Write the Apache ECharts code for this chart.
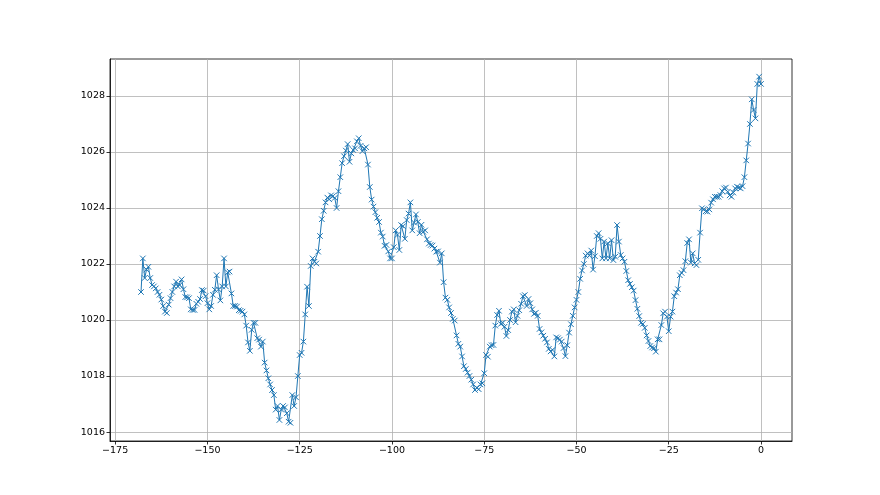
<!DOCTYPE html>
<html>
<head>
<meta charset="utf-8">
<script src="https://cdn.jsdelivr.net/npm/echarts@6/dist/echarts.min.js"></script>
<style>html,body{margin:0;padding:0;background:#fff}#c{width:880px;height:495px}</style>
</head>
<body>
<div id="c"></div>
<script>
// Hours relative to now (x values)
const hours = [
-168,-167.5,-167,-166.5,-166,-165.5,-165,-164.5,-164,-163.5,-163,-162.5,-162,-161.5,-161,-160.5,-160,-159.5,-159,-158.5,
-158,-157.5,-157,-156.5,-156,-155.5,-155,-154.5,-154,-153.5,-153,-152.5,-152,-151.5,-151,-150.5,-150,-149.5,-149,-148.5,
-148,-147.5,-147,-146.5,-146,-145.5,-145,-144.5,-144,-143.5,-143,-142.5,-142,-141.5,-141,-140.5,-140,-139.5,-139,-138.5,
-138,-137.5,-137,-136.5,-136,-135.5,-135,-134.5,-134,-133.5,-133,-132.5,-132,-131.5,-131,-130.5,-130,-129.5,-129,-128.5,
-128,-127.5,-127,-126.5,-126,-125.5,-125,-124.5,-124,-123.5,-123,-122.5,-122,-121.5,-121,-120.5,-120,-119.5,-119,-118.5,
-118,-117.5,-117,-116.5,-116,-115.5,-115,-114.5,-114,-113.5,-113,-112.5,-112,-111.5,-111,-110.5,-110,-109.5,-109,-108.5,
-108,-107.5,-107,-106.5,-106,-105.5,-105,-104.5,-104,-103.5,-103,-102.5,-102,-101.5,-101,-100.5,-100,-99.5,-99,-98.5,
-98,-97.5,-97,-96.5,-96,-95.5,-95,-94.5,-94,-93.5,-93,-92.5,-92,-91.5,-91,-90.5,-90,-89.5,-89,-88.5,
-88,-87.5,-87,-86.5,-86,-85.5,-85,-84.5,-84,-83.5,-83,-82.5,-82,-81.5,-81,-80.5,-80,-79.5,-79,-78.5,
-78,-77.5,-77,-76.5,-76,-75.5,-75,-74.5,-74,-73.5,-73,-72.5,-72,-71.5,-71,-70.5,-70,-69.5,-69,-68.5,
-68,-67.5,-67,-66.5,-66,-65.5,-65,-64.5,-64,-63.5,-63,-62.5,-62,-61.5,-61,-60.5,-60,-59.5,-59,-58.5,
-58,-57.5,-57,-56.5,-56,-55.5,-55,-54.5,-54,-53.5,-53,-52.5,-52,-51.5,-51,-50.5,-50,-49.5,-49,-48.5,
-48,-47.5,-47,-46.5,-46,-45.5,-45,-44.5,-44,-43.5,-43,-42.5,-42,-41.5,-41,-40.5,-40,-39.5,-39,-38.5,
-38,-37.5,-37,-36.5,-36,-35.5,-35,-34.5,-34,-33.5,-33,-32.5,-32,-31.5,-31,-30.5,-30,-29.5,-29,-28.5,
-28,-27.5,-27,-26.5,-26,-25.5,-25,-24.5,-24,-23.5,-23,-22.5,-22,-21.5,-21,-20.5,-20,-19.5,-19,-18.5,
-18,-17.5,-17,-16.5,-16,-15.5,-15,-14.5,-14,-13.5,-13,-12.5,-12,-11.5,-11,-10.5,-10,-9.5,-9,-8.5,
-8,-7.5,-7,-6.5,-6,-5.5,-5,-4.5,-4,-3.5,-3,-2.5,-2,-1.5,-1,-0.5,0
];
// Pressure values (hPa)
const pressure = [
1021.0,1022.2,1021.5,1021.8,1021.9,1021.5,1021.25,1021.2,1021.13,1021.0,1020.9,1020.73,1020.5,1020.3,1020.25,1020.55,1020.78,1021.0,1021.2,1021.37,
1021.2,1021.25,1021.45,1021.1,1020.82,1020.81,1020.78,1020.38,1020.36,1020.36,1020.58,1020.65,1020.75,1021.07,1021.05,1020.85,1020.6,1020.38,1020.5,1020.9,
1021.08,1021.6,1021.1,1020.7,1021.2,1022.2,1021.2,1021.7,1021.73,1020.95,1020.5,1020.5,1020.48,1020.35,1020.33,1020.3,1020.2,1019.8,1019.2,1018.9,
1019.65,1019.9,1019.9,1019.35,1019.3,1019.05,1019.23,1018.48,1018.2,1017.92,1017.7,1017.5,1017.32,1016.8,1016.93,1016.43,1016.8,1016.93,1016.88,1016.67,
1016.37,1016.33,1017.32,1016.93,1017.24,1018.0,1018.75,1018.83,1019.23,1020.2,1021.19,1020.5,1021.93,1022.2,1022.08,1022.02,1022.44,1023.0,1023.6,1023.9,
1024.2,1024.37,1024.31,1024.45,1024.42,1024.36,1024.0,1024.6,1025.1,1025.6,1025.85,1026.05,1026.28,1025.65,1025.95,1026.07,1026.13,1026.38,1026.49,1026.22,
1026.03,1026.13,1026.17,1025.55,1024.75,1024.3,1024.05,1023.85,1023.65,1023.5,1023.12,1022.98,1022.65,1022.68,1022.45,1022.2,1022.2,1022.6,1023.2,1023.04,
1022.5,1023.39,1023.35,1022.9,1023.57,1023.8,1024.2,1023.2,1023.48,1023.77,1023.5,1023.1,1023.4,1023.15,1023.2,1022.88,1022.73,1022.68,1022.66,1022.55,
1022.44,1022.45,1022.05,1022.38,1021.35,1020.8,1020.72,1020.45,1020.25,1020.04,1019.98,1019.45,1019.15,1019.05,1018.7,1018.35,1018.25,1018.12,1018.0,1017.87,
1017.7,1017.5,1017.58,1017.53,1017.7,1017.74,1018.1,1018.75,1018.69,1019.05,1019.1,1019.11,1019.8,1020.18,1020.33,1019.86,1019.9,1019.76,1019.43,1019.64,
1020.0,1020.3,1020.38,1019.92,1020.15,1020.35,1020.58,1020.85,1020.89,1020.5,1020.75,1020.6,1020.38,1020.22,1020.26,1020.15,1019.68,1019.56,1019.44,1019.33,
1019.2,1018.97,1018.88,1018.93,1018.7,1019.38,1019.35,1019.3,1019.23,1019.0,1018.71,1019.1,1019.55,1019.85,1020.15,1020.45,1020.72,1021.0,1021.47,1021.77,
1022.0,1022.3,1022.38,1022.3,1022.48,1021.8,1022.28,1023.0,1023.1,1022.9,1022.2,1022.8,1022.2,1022.74,1022.2,1022.85,1022.14,1022.26,1023.39,1022.8,
1022.32,1022.2,1022.08,1021.75,1021.42,1021.29,1021.17,1021.05,1020.71,1020.4,1020.14,1019.9,1019.86,1019.72,1019.45,1019.25,1019.07,1019.02,1018.99,1018.87,
1019.31,1019.31,1019.82,1020.24,1020.3,1020.12,1019.6,1020.12,1020.3,1020.85,1020.98,1021.1,1021.6,1021.68,1021.78,1022.1,1022.75,1022.88,1022.05,1022.38,
1022.02,1021.96,1022.15,1023.12,1023.99,1023.95,1023.88,1023.87,1023.95,1024.19,1024.31,1024.4,1024.4,1024.4,1024.46,1024.6,1024.7,1024.73,1024.58,1024.45,
1024.4,1024.55,1024.7,1024.76,1024.73,1024.7,1024.78,1025.1,1025.7,1026.3,1027.0,1027.88,1027.5,1027.2,1028.43,1028.69,1028.43
];
const xTicks = [-175, -150, -125, -100, -75, -50, -25, 0];
const yTicks = [1016, 1018, 1020, 1022, 1024, 1026, 1028];

const fmt = v => String(v).replace('-', '\u2212');
const data = hours.map((h, i) => [h, pressure[i]]);
const font = 'DejaVu Sans';

const chart = echarts.init(document.getElementById('c'), null, {renderer: 'canvas'});
chart.setOption({
  animation: false,
  backgroundColor: '#ffffff',
  grid: {left: 110, right: 88, top: 59, bottom: 54, show: true, borderColor: '#000', borderWidth: 0.8, backgroundColor: 'transparent'},
  xAxis: {
    type: 'value', min: -176.4, max: 8.4,
    axisLine: {show: true, onZero: false, lineStyle: {color: '#000', width: 0.8}},
    axisTick: {show: true, length: 3.5, customValues: xTicks, lineStyle: {color: '#000', width: 0.8}},
    axisLabel: {customValues: xTicks, formatter: fmt, color: '#000', fontFamily: font, fontSize: 9.5, margin: 5},
    splitLine: {show: true, lineStyle: {color: '#b0b0b0', width: 0.8}}
  },
  yAxis: {
    type: 'value', min: 1015.68, max: 1029.32,
    axisLine: {show: true, onZero: false, lineStyle: {color: '#000', width: 0.8}},
    axisTick: {show: true, length: 3.5, customValues: yTicks, lineStyle: {color: '#000', width: 0.8}},
    axisLabel: {customValues: yTicks, formatter: v => String(v), color: '#000', fontFamily: font, fontSize: 9.5, margin: 5},
    splitLine: {show: true, lineStyle: {color: '#b0b0b0', width: 0.8}}
  },
  series: [{
    type: 'line',
    data: data,
    showAllSymbol: true,
    symbol: 'path://M0,0L10,10M0,10L10,0',
    symbolSize: 5.5,
    lineStyle: {color: '#1f77b4', width: 1},
    itemStyle: {color: 'rgba(0,0,0,0)', borderColor: '#1f77b4', borderWidth: 1},
    emphasis: {disabled: true}
  }]
});
</script>
</body>
</html>
